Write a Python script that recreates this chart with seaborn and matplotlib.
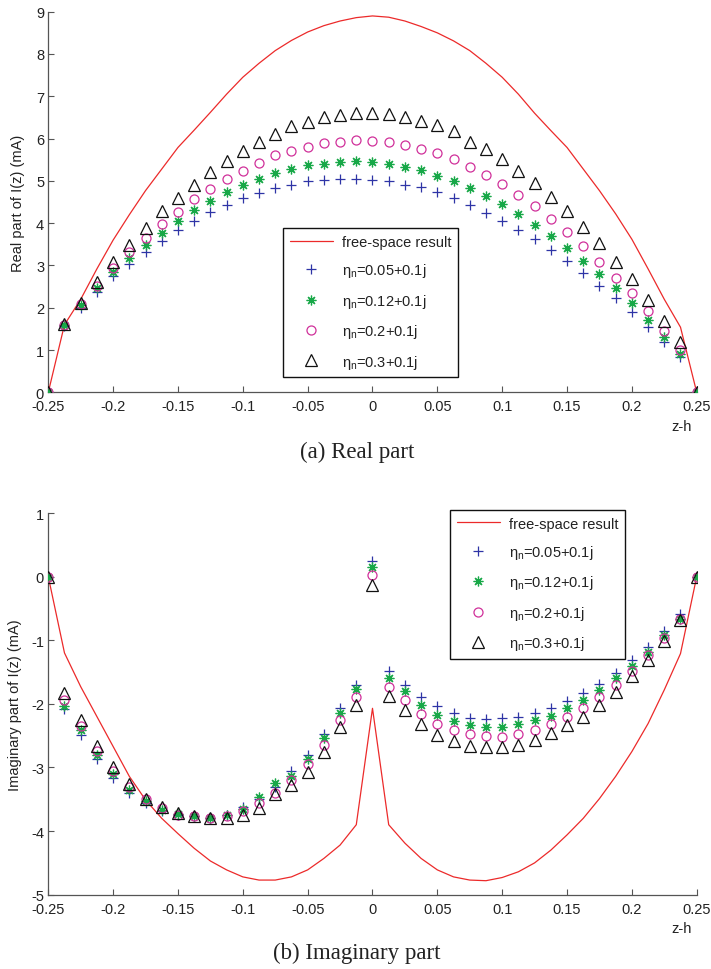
import numpy as np
import pandas as pd
import matplotlib
matplotlib.use("Agg")
import matplotlib.pyplot as plt
import seaborn as sns

# ---------------- data ----------------
z = [-0.25, -0.2375, -0.225, -0.2125, -0.2, -0.1875, -0.175, -0.1625, -0.15, -0.1375,
     -0.125, -0.1125, -0.1, -0.0875, -0.075, -0.0625, -0.05, -0.0375, -0.025, -0.0125,
     0.0, 0.0125, 0.025, 0.0375, 0.05, 0.0625, 0.075, 0.0875, 0.1, 0.1125,
     0.125, 0.1375, 0.15, 0.1625, 0.175, 0.1875, 0.2, 0.2125, 0.225, 0.2375, 0.25]

labels = ["free-space result", r"$\eta_n$=0.05+0.1j", r"$\eta_n$=0.12+0.1j",
          r"$\eta_n$=0.2+0.1j", r"$\eta_n$=0.3+0.1j"]

# Real part of I(z) (mA)
re_free = [0, 1.6, 2.2, 2.92, 3.6, 4.2, 4.77, 5.28, 5.79, 6.2, 6.62, 7.05, 7.45, 7.78,
           8.08, 8.32, 8.52, 8.67, 8.78, 8.86, 8.9, 8.87, 8.78, 8.65, 8.5, 8.31, 8.08,
           7.78, 7.45, 7.05, 6.6, 6.19, 5.79, 5.28, 4.77, 4.22, 3.62, 2.92, 2.2, 1.54, 0]
re_005 = [0, 1.58, 2.0, 2.38, 2.74, 3.03, 3.33, 3.57, 3.84, 4.06, 4.26, 4.43, 4.59, 4.72,
          4.83, 4.91, 4.99, 5.02, 5.04, 5.04, 5.02, 5.0, 4.91, 4.85, 4.74, 4.59, 4.43,
          4.25, 4.06, 3.85, 3.62, 3.37, 3.1, 2.82, 2.52, 2.22, 1.89, 1.54, 1.18, 0.83, 0]
re_012 = [0, 1.6, 2.06, 2.47, 2.84, 3.17, 3.48, 3.77, 4.05, 4.3, 4.52, 4.73, 4.9, 5.04,
          5.19, 5.29, 5.37, 5.41, 5.45, 5.47, 5.45, 5.41, 5.33, 5.26, 5.12, 5.0, 4.83,
          4.64, 4.45, 4.22, 3.96, 3.7, 3.42, 3.1, 2.8, 2.46, 2.11, 1.72, 1.3, 0.91, 0]
re_02 = [0, 1.6, 2.09, 2.52, 2.93, 3.31, 3.66, 3.97, 4.27, 4.56, 4.81, 5.04, 5.24, 5.43,
         5.6, 5.7, 5.81, 5.89, 5.93, 5.97, 5.95, 5.91, 5.86, 5.75, 5.65, 5.51, 5.32,
         5.14, 4.92, 4.67, 4.41, 4.11, 3.78, 3.47, 3.09, 2.71, 2.34, 1.92, 1.45, 1.01, 0]
re_03 = [0, 1.62, 2.11, 2.62, 3.07, 3.49, 3.89, 4.28, 4.59, 4.91, 5.22, 5.48, 5.71, 5.93,
         6.12, 6.29, 6.4, 6.5, 6.56, 6.61, 6.61, 6.58, 6.52, 6.42, 6.32, 6.17, 5.93,
         5.75, 5.52, 5.23, 4.96, 4.63, 4.29, 3.92, 3.52, 3.09, 2.68, 2.19, 1.69, 1.18, 0]

# Imaginary part of I(z) (mA)
im_free = [0, -1.2, -1.73, -2.2, -2.67, -3.14, -3.51, -3.8, -4.04, -4.27, -4.47, -4.61,
           -4.72, -4.77, -4.77, -4.72, -4.61, -4.43, -4.22, -3.9, -2.07, -3.9, -4.19,
           -4.43, -4.61, -4.72, -4.77, -4.78, -4.73, -4.64, -4.5, -4.3, -4.06, -3.8,
           -3.49, -3.14, -2.75, -2.31, -1.78, -1.21, 0]
im_005 = [0, -2.08, -2.49, -2.86, -3.16, -3.4, -3.56, -3.68, -3.75, -3.77, -3.79, -3.75,
          -3.62, -3.49, -3.3, -3.06, -2.8, -2.48, -2.07, -1.7, 0.24, -1.49, -1.7, -1.89,
          -2.04, -2.14, -2.22, -2.24, -2.23, -2.2, -2.14, -2.07, -1.95, -1.83, -1.69,
          -1.51, -1.31, -1.1, -0.86, -0.59, 0]
im_012 = [0, -2.03, -2.41, -2.8, -3.1, -3.35, -3.52, -3.67, -3.73, -3.77, -3.8, -3.75,
          -3.66, -3.46, -3.25, -3.13, -2.86, -2.54, -2.15, -1.77, 0.15, -1.6, -1.8, -2.02,
          -2.18, -2.27, -2.33, -2.37, -2.37, -2.32, -2.25, -2.19, -2.07, -1.94, -1.78,
          -1.59, -1.4, -1.18, -0.92, -0.66, 0]
im_02 = [0, -1.94, -2.35, -2.74, -3.05, -3.3, -3.49, -3.64, -3.74, -3.77, -3.79, -3.76,
         -3.69, -3.56, -3.4, -3.19, -2.95, -2.65, -2.25, -1.9, 0.02, -1.73, -1.94, -2.16,
         -2.31, -2.41, -2.48, -2.51, -2.52, -2.48, -2.41, -2.31, -2.2, -2.06, -1.9, -1.7,
         -1.49, -1.23, -0.97, -0.67, 0]
im_03 = [0, -1.83, -2.25, -2.66, -2.99, -3.26, -3.49, -3.62, -3.72, -3.77, -3.8, -3.8,
         -3.75, -3.64, -3.42, -3.28, -3.07, -2.75, -2.37, -2.02, -0.13, -1.88, -2.09,
         -2.32, -2.49, -2.59, -2.66, -2.68, -2.68, -2.65, -2.57, -2.46, -2.33, -2.2,
         -2.02, -1.81, -1.56, -1.31, -1.01, -0.68, 0]

xticks = [-0.25, -0.2, -0.15, -0.1, -0.05, 0, 0.05, 0.1, 0.15, 0.2, 0.25]
xticklabels = ["-0.25", "-0.2", "-0.15", "-0.1", "-0.05", "0", "0.05", "0.1", "0.15", "0.2", "0.25"]
re_yticks = [0, 1, 2, 3, 4, 5, 6, 7, 8, 9]
im_yticks = [-5, -4, -3, -2, -1, 0, 1]

# ---------------- style ----------------
sns.set_theme(style="ticks")
plt.rcParams["font.family"] = ["Liberation Sans", "DejaVu Sans"]
plt.rcParams["mathtext.fontset"] = "custom"
plt.rcParams["mathtext.it"] = "Liberation Sans"
plt.rcParams["mathtext.rm"] = "Liberation Sans"

RED = "#ec2a2a"
series_style = [
    ("+", "#2e34a6", 7.5, "full"),
    ((8, 2, 0), "#18a848", 7, "full"),
    ("o", "#d0309a", 6.5, "none"),
    ("^", "#111111", 8, "none"),
]

FS = 10.5
fig = plt.figure(figsize=(7.11, 9.70), dpi=100)
ax1 = fig.add_axes([0.0679, 0.5945, 0.912, 0.3924])
ax2 = fig.add_axes([0.0679, 0.0766, 0.912, 0.3935])


def draw(ax, free, sets, yticks, ylabel):
    df = pd.DataFrame({"z": z, "v": free})
    sns.lineplot(data=df, x="z", y="v", ax=ax, color=RED, linewidth=0.9,
                 label=labels[0], zorder=2)
    for vals, (mk, col, ms, fill), lab in zip(sets, series_style, labels[1:]):
        d = pd.DataFrame({"z": z, "v": vals})
        sns.lineplot(data=d, x="z", y="v", ax=ax, color=col, linestyle="",
                     marker=mk, markersize=ms,
                     markerfacecolor=("none" if fill == "none" else col),
                     markeredgecolor=col, markeredgewidth=0.9, label=lab, zorder=3)
    ax.set_xlim(-0.25, 0.25)
    ax.set_ylim(min(yticks), max(yticks))
    ax.set_xticks(xticks)
    ax.set_xticklabels(xticklabels)
    ax.set_yticks(yticks)
    ax.set_yticklabels([str(t) for t in yticks])
    for s in ["top", "right"]:
        ax.spines[s].set_visible(False)
    for s in ["left", "bottom"]:
        ax.spines[s].set_color("#555555")
        ax.spines[s].set_linewidth(0.9)
    ax.tick_params(direction="in", length=4, width=0.8, colors="#555555",
                   labelcolor="#222222", labelsize=FS)
    ax.tick_params(axis="y", pad=3)
    ax.tick_params(axis="x", pad=5)
    ax.set_xlabel("")
    ax.set_ylabel(ylabel, fontsize=FS, color="#222222")
    ax.yaxis.label.set_verticalalignment("center")
    ax.text(0.977, -0.088, "z-h", transform=ax.transAxes, ha="center", va="center",
            fontsize=FS, color="#222222")


draw(ax1, re_free, [re_005, re_012, re_02, re_03], re_yticks, "Real part of I(z) (mA)")
draw(ax2, im_free, [im_005, im_012, im_02, im_03], im_yticks, "Imaginary part of I(z) (mA)")
ax1.yaxis.set_label_coords(-0.046, 0.5)
ax2.yaxis.set_label_coords(-0.052, 0.5)

leg_kw = dict(fontsize=FS, frameon=True, fancybox=False, edgecolor="#111111",
              framealpha=1, handlelength=3.0, labelspacing=0.85, borderpad=0.45,
              handletextpad=0.6, borderaxespad=0)
l1 = ax1.legend(loc="lower left", bbox_to_anchor=(0.362, 0.040), **leg_kw)
l2 = ax2.legend(loc="upper left", bbox_to_anchor=(0.6195, 1.008), **leg_kw)
for l in (l1, l2):
    l.get_frame().set_linewidth(1.0)
    for t in l.get_texts():
        t.set_color("#222222")

fig.text(357 / 711, 1 - 452 / 970, "(a) Real part", ha="center", va="center",
         fontsize=16.5, family="Liberation Serif", color="#222222")
fig.text(357 / 711, 1 - 953 / 970, "(b) Imaginary part", ha="center", va="center",
         fontsize=16.5, family="Liberation Serif", color="#222222")

fig.savefig("out.png", dpi=100)
